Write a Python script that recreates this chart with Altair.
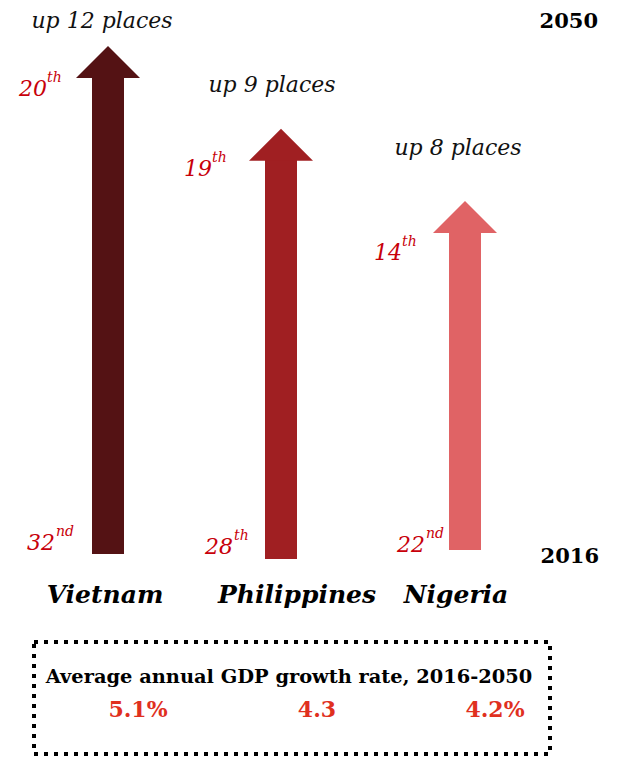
import altair as alt
import pandas as pd

# ---------------- data ----------------
countries = ["Vietnam", "Philippines", "Nigeria"]
rank_2016 = [32, 28, 22]
rank_2050 = [20, 19, 14]
places_up = [12, 9, 8]
growth_labels = ["5.1%", "4.3", "4.2%"]
arrow_start = [0.0, -1.0, 0.8]      # arrow foot level (2016)
arrow_end = [100.0, 83.7, 69.5]     # arrow tip level (2050)
years = ["2016", "2050"]
box_title = "Average annual GDP growth rate, 2016-2050"

# ---------------- style / layout ----------------
arrow_colors = ["#541214", "#a01f22", "#e06365"]
RANK_RED = "#c8000a"
GROWTH_RED = "#e0301e"
FONT = "DejaVu Serif"

up_dx = [-6, -9, -7]
up_dy = [-18, -37, -46]
top_rank_dx = [-61, -69, -63]
top_rank_dy = [50, 47, 59]
low_rank_dx = [-53, -48, -40]
low_rank_dy = [-4, -5, 2]
name_dx = [-3, 16, -9]
growth_dx = [30, 36, 30]


def ordinal_suffix(n):
    if 10 <= n % 100 <= 20:
        return "th"
    return {1: "st", 2: "nd", 3: "rd"}.get(n % 10, "th")


df = pd.DataFrame({
    "country": countries,
    "idx": list(range(len(countries))),
    "start": arrow_start,
    "end": arrow_end,
    "up_text": [f"up {p} places" for p in places_up],
    "r50": [str(r) for r in rank_2050],
    "r50_suf": [ordinal_suffix(r) for r in rank_2050],
    "r16": [str(r) for r in rank_2016],
    "r16_suf": [ordinal_suffix(r) for r in rank_2016],
    "growth": growth_labels,
})

xs = alt.Scale(domain=[0, 1, 2], range=[100, 273, 457], padding=0, nice=False)
ys = alt.Scale(domain=[0, 100], range=[546, 38], padding=0, nice=False)
X = alt.X("idx:Q", scale=xs, axis=None)
cs = alt.Scale(domain=countries, range=arrow_colors)

base = alt.Chart(df)

shaft = base.mark_bar(size=32, y2Offset=30).encode(
    x=X,
    y=alt.Y("start:Q", scale=ys, axis=None),
    y2="end:Q",
    color=alt.Color("country:N", scale=cs, legend=None),
)

head = base.mark_point(
    shape="M-1,1L0,0L1,1Z", size=4096, filled=True, opacity=1, strokeWidth=0
).encode(
    x=X,
    y=alt.Y("end:Q", scale=ys, axis=None),
    color=alt.Color("country:N", scale=cs, legend=None),
)

layers = [shaft, head]

for i, c in enumerate(countries):
    sub = base.transform_filter(alt.datum.country == c)
    layers.append(
        sub.mark_text(font=FONT, fontStyle="italic", fontSize=22, align="center",
                      baseline="alphabetic", color="#111111",
                      dx=up_dx[i], dy=up_dy[i]).encode(
            x=X, y=alt.Y("end:Q", scale=ys, axis=None), text="up_text:N")
    )
    layers.append(
        sub.mark_text(font=FONT, fontStyle="italic", fontSize=22, align="right",
                      baseline="alphabetic", color=RANK_RED,
                      dx=top_rank_dx[i], dy=top_rank_dy[i]).encode(
            x=X, y=alt.Y("end:Q", scale=ys, axis=None), text="r50:N")
    )
    layers.append(
        sub.mark_text(font=FONT, fontStyle="italic", fontSize=14, align="left",
                      baseline="alphabetic", color=RANK_RED,
                      dx=top_rank_dx[i], dy=top_rank_dy[i] - 14).encode(
            x=X, y=alt.Y("end:Q", scale=ys, axis=None), text="r50_suf:N")
    )
    layers.append(
        sub.mark_text(font=FONT, fontStyle="italic", fontSize=22, align="right",
                      baseline="alphabetic", color=RANK_RED,
                      dx=low_rank_dx[i], dy=low_rank_dy[i]).encode(
            x=X, y=alt.Y("start:Q", scale=ys, axis=None), text="r16:N")
    )
    layers.append(
        sub.mark_text(font=FONT, fontStyle="italic", fontSize=14, align="left",
                      baseline="alphabetic", color=RANK_RED,
                      dx=low_rank_dx[i] + 1, dy=low_rank_dy[i] - 14).encode(
            x=X, y=alt.Y("start:Q", scale=ys, axis=None), text="r16_suf:N")
    )
    layers.append(
        sub.mark_text(font=FONT, fontStyle="italic", fontWeight="bold", fontSize=25,
                      align="center", baseline="alphabetic", color="#000000",
                      dx=name_dx[i]).encode(
            x=X, y=alt.value(595), text="country:N")
    )
    layers.append(
        sub.mark_text(font=FONT, fontWeight="bold", fontSize=22,
                      align="center", baseline="alphabetic", color=GROWTH_RED,
                      dx=growth_dx[i]).encode(
            x=X, y=alt.value(709), text="growth:N")
    )

year_top = alt.Chart(pd.DataFrame({"t": [years[1]]})).mark_text(
    font=FONT, fontWeight="bold", fontSize=21, align="right", baseline="alphabetic",
    color="#000000").encode(x=alt.value(590), y=alt.value(20), text="t:N")
year_bottom = alt.Chart(pd.DataFrame({"t": [years[0]]})).mark_text(
    font=FONT, fontWeight="bold", fontSize=21, align="right", baseline="alphabetic",
    color="#000000").encode(x=alt.value(591), y=alt.value(555), text="t:N")
title = alt.Chart(pd.DataFrame({"t": [box_title]})).mark_text(
    font=FONT, fontWeight="bold", fontSize=19.4, align="center", baseline="alphabetic",
    color="#000000").encode(x=alt.value(281), y=alt.value(675), text="t:N")
box = alt.Chart(pd.DataFrame({"t": [box_title]})).mark_rect(
    fillOpacity=0, stroke="#000000", strokeWidth=4, strokeDash=[4, 6]).encode(
    x=alt.value(26), x2=alt.value(542), y=alt.value(634), y2=alt.value(746))

layers += [year_top, year_bottom, title, box]

chart = alt.layer(*layers).properties(
    width=601, height=750, padding=0, autosize=alt.AutoSizeParams(type="none")
).configure_view(stroke=None)

chart.save("out.html", embed_options={"renderer": "svg", "actions": False})
